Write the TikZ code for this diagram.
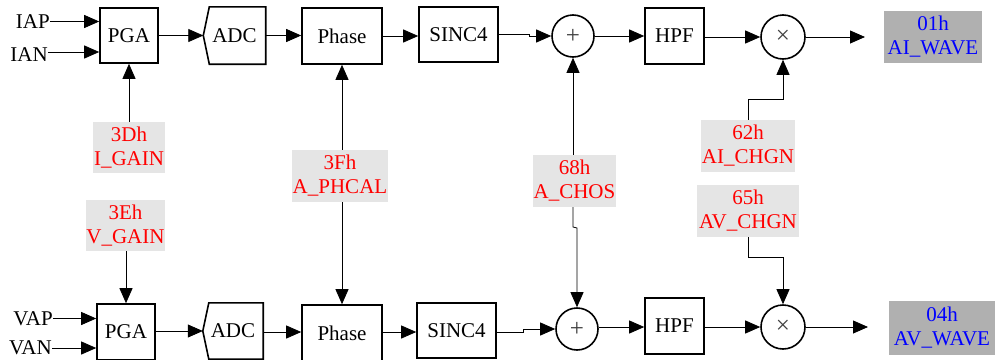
\documentclass[tikz,border=0pt]{standalone}
\usepackage{fontspec}
\setmainfont{Liberation Serif}
\usetikzlibrary{arrows.meta}
\begin{document}
\begin{tikzpicture}[x=1pt,y=-1pt,
  every node/.style={font=\fontsize{21}{24}\selectfont, inner sep=0pt},
  blk/.style={draw, line width=1.6pt},
  adcbox/.style={draw=none},
  reg/.style={fill=black!10, text=red, align=center, minimum height=52pt},
  outb/.style={fill=black!31, text=blue, align=center},
  sumnode/.style={circle, draw, line width=1.6pt, minimum size=42pt, font=\fontsize{25}{25}\selectfont, text=black!75},
  arr/.style={-{Triangle[length=15pt,width=13pt]}, line width=0.8pt},
  adcline/.style={line width=1.6pt, line join=miter}
]
\useasboundingbox (0,0) rectangle (995,359);

% ---- top row ----
\node[blk, minimum width=58pt, minimum height=55pt] (pga1) at (129,35.5) {PGA};
\node[adcbox, minimum width=62pt, minimum height=57pt] (adc1) at (234.5,35.5) {ADC};
\draw[adcline] ([xshift=6pt]adc1.north west) -- (adc1.west) -- ([xshift=6pt]adc1.south west) -- (adc1.south east) -- (adc1.north east) -- cycle;
\node[blk, minimum width=80pt, minimum height=56pt] (ph1) at (342,36) {Phase};
\node[blk, minimum width=79pt, minimum height=55pt] (sc1) at (458.5,34.5) {SINC4};
\node[sumnode] (pl1) at (573,36) {+};
\node[blk, minimum width=59pt, minimum height=56pt] (hpf1) at (674.5,36) {HPF};
\node[sumnode, minimum size=44pt] (tm1) at (783,37) {×};
\node[outb, minimum width=98pt, minimum height=52pt] (o1) at (933,37) {01h\\AI\_WAVE};
\coordinate (o1in) at (865,37);

\node[anchor=east] (iap) at (50,21.5) {IAP};
\node[anchor=east] (ian) at (48,55) {IAN};

% ---- bottom row ----
\node[blk, minimum width=58pt, minimum height=56pt] (pga2) at (126,332) {PGA};
\node[adcbox, minimum width=60pt, minimum height=56pt] (adc2) at (233,331) {ADC};
\draw[adcline] ([xshift=6pt]adc2.north west) -- (adc2.west) -- ([xshift=6pt]adc2.south west) -- (adc2.south east) -- (adc2.north east) -- cycle;
\node[blk, minimum width=80pt, minimum height=56pt] (ph2) at (342,333) {Phase};
\node[blk, minimum width=79pt, minimum height=55pt] (sc2) at (456.5,330.5) {SINC4};
\node[sumnode] (pl2) at (577,329) {+};
\node[blk, minimum width=59pt, minimum height=56pt] (hpf2) at (674.5,326) {HPF};
\node[sumnode, minimum size=44pt] (tm2) at (783,327) {×};
\node[outb, minimum width=106pt, minimum height=54pt] (o2) at (942,328) {04h\\AV\_WAVE};
\coordinate (o2in) at (868,327);

\node[anchor=east] (vap) at (53,318.5) {VAP};
\node[anchor=east] (van) at (52,348) {VAN};

% ---- register labels ----
\node[reg, minimum width=72pt, minimum height=51pt] (lig) at (129,147.5) {3Dh\\I\_GAIN};
\node[reg, minimum width=79pt, minimum height=51pt] (lvg) at (125.5,225.5) {3Eh\\V\_GAIN};
\node[reg, minimum width=96pt] (lph) at (340,176) {3Fh\\A\_PHCAL};
\node[reg, minimum width=83pt] (lch) at (574.5,181) {68h\\A\_CHOS};
\node[reg, minimum width=94pt] (lai) at (748,146) {62h\\AI\_CHGN};
\node[reg, minimum width=102pt] (lav) at (748,211) {65h\\AV\_CHGN};

% ---- inputs ----
\draw[arr] (iap.east) -- (iap.east -| pga1.west);
\draw[arr] ([yshift=3pt]ian.east) -- ([yshift=3pt]ian.east -| pga1.west);
\draw[arr] (vap.east) -- (vap.east -| pga2.west);
\draw[arr] (van.east) -- (van.east -| pga2.west);

% ---- top chain ----
\draw[arr] (pga1.east) -- (pga1.east -| adc1.west);
\draw[arr] (adc1.east) -- (adc1.east -| ph1.west);
\draw[arr] (ph1.east) -- (ph1.east -| sc1.west);
\draw[arr] (sc1.east) -- ++(31,0) |- (pl1.west);
\draw[arr] (pl1.east) -- (pl1.east -| hpf1.west);
\draw[arr] (hpf1.east |- tm1.west) -- (tm1.west);
\draw[arr] (tm1.east) -- (o1in);

% ---- bottom chain ----
\draw[arr] (pga2.east |- adc2.west) -- (adc2.west);
\draw[arr] (adc2.east |- 0,332) -- (ph2.west |- 0,332);
\draw[arr] (ph2.east |- 0,332) -- (sc2.west |- 0,332);
\draw[arr] (sc2.east |- 0,332) -- ++(27,0) |- (pl2.west);
\draw[arr] (pl2.east |- 0,327) -- (hpf2.west |- 0,327);
\draw[arr] (hpf2.east |- tm2.west) -- (tm2.west);
\draw[arr] (tm2.east) -- (o2in);

% ---- register connections ----
\draw[arr] (lig.north) -- (lig.north |- pga1.south);
\draw[arr] (lvg.south -| pga2.north) -- (pga2.north);
\draw[arr] (lph.north -| ph1.south) -- (ph1.south);
\draw[arr] (lph.south -| ph2.north) -- (ph2.north);
\draw[arr] (lch.north -| pl1.south) -- (pl1.south);
\draw[arr] (lch.south -| pl1.south) -- (pl1.south |- 0,227) -- (pl2.north |- 0,228) -- (pl2.north);
\draw[arr] (lai.north) -- (lai.north |- 0,99) -| (tm1.south);
\draw[arr] (lav.south) -- (lav.south |- 0,257) -| (tm2.north);
\end{tikzpicture}
\end{document}
